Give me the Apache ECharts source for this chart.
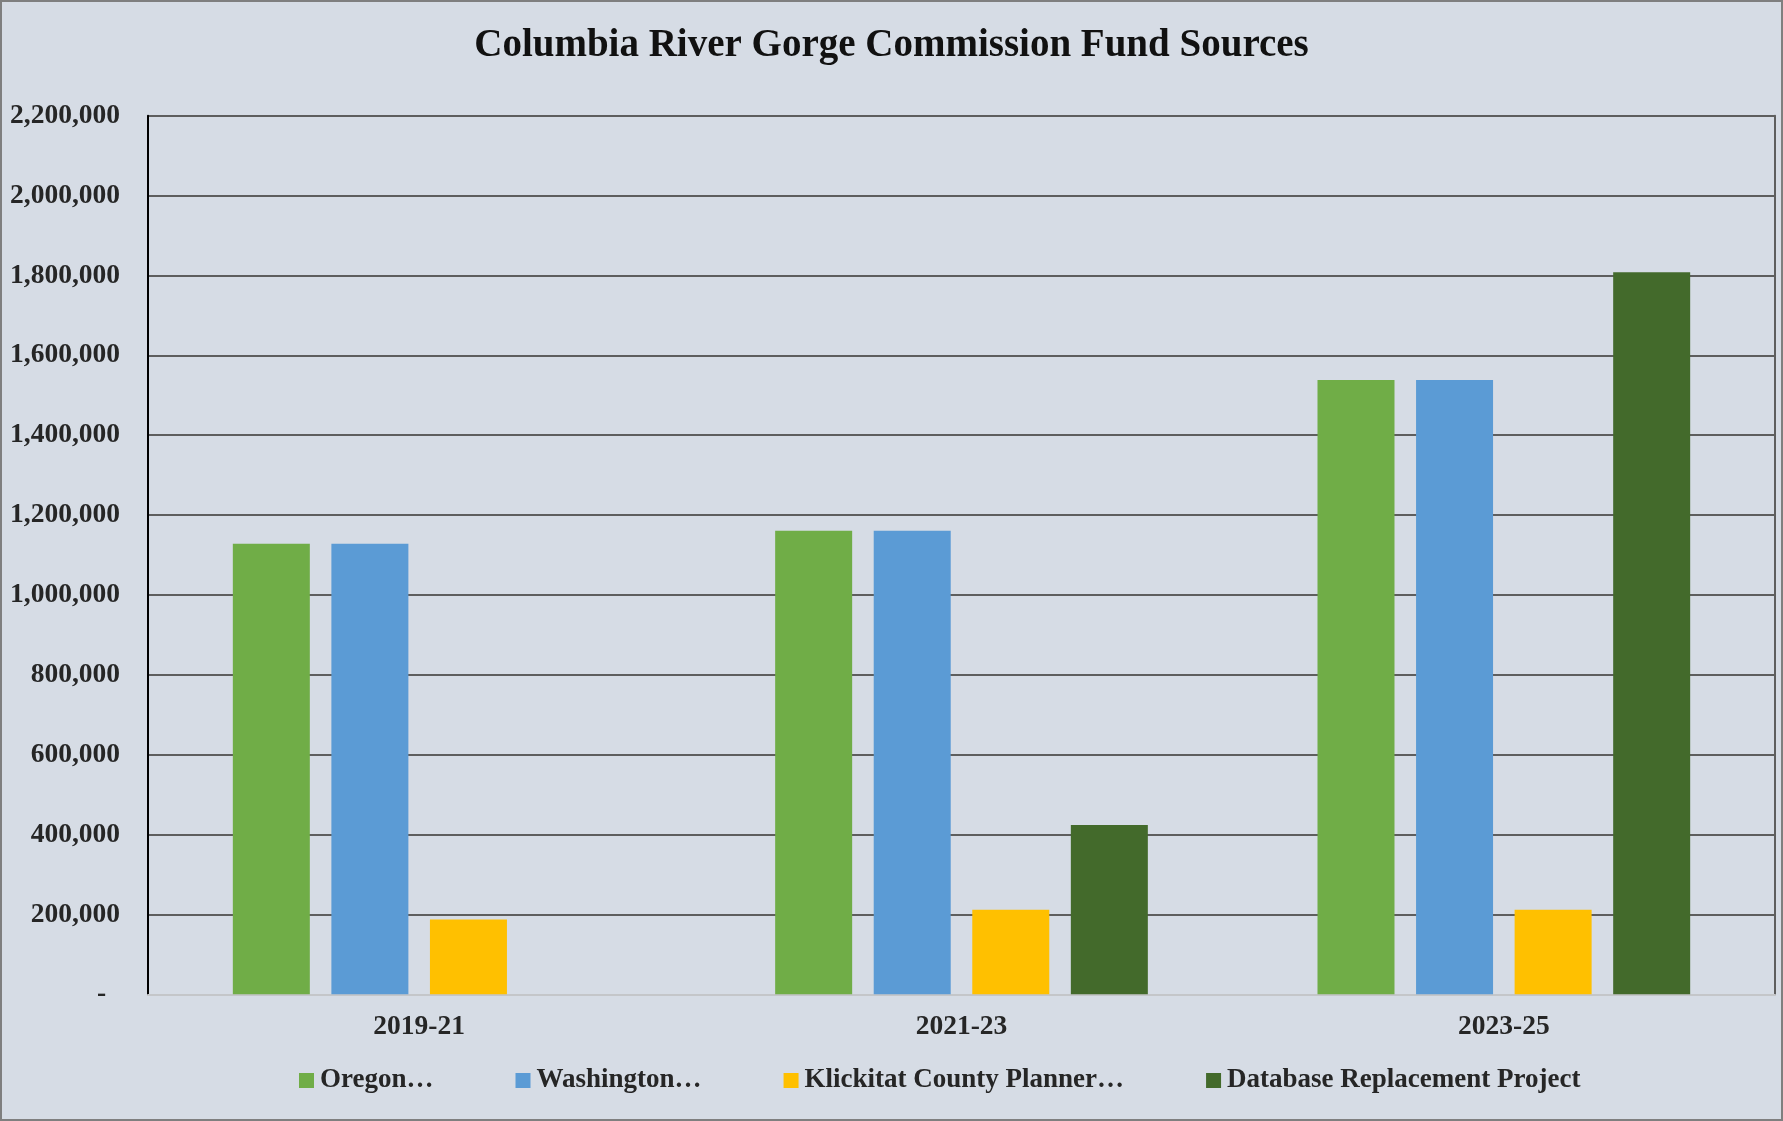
<!DOCTYPE html>
<html>
<head>
<meta charset="utf-8">
<script src="https://cdn.jsdelivr.net/npm/echarts@6/dist/echarts.min.js"></script>
<style>
html,body{margin:0;padding:0;background:#D6DCE5;}
#chart{width:1783px;height:1121px;}
</style>
</head>
<body>
<div id="chart"></div>
<script>
const categories = ['2019-21', '2021-23', '2023-25'];
const seriesNames = ['Oregon…', 'Washington…', 'Klickitat County Planner…', 'Database Replacement Project'];
const oregon = [1128000, 1161000, 1538000];
const washington = [1128000, 1161000, 1538000];
const klickitat = [187000, 212000, 212000];
const database = [null, 424000, 1808000];
const yTicks = { min: 0, max: 2200000, interval: 200000 };
const colors = ['#70AD47', '#5B9BD5', '#FFC000', '#436A2B'];

const font = '"Liberation Serif", "DejaVu Serif", serif';
const chart = echarts.init(document.getElementById('chart'));
const seriesData = [oregon, washington, klickitat, database];

chart.setOption({
  backgroundColor: '#D6DCE5',
  animation: false,
  title: {
    text: 'Columbia River Gorge Commission Fund Sources',
    left: 'center',
    top: 26,
    padding: 0,
    textStyle: { fontFamily: font, fontWeight: 'bold', fontSize: 39, color: '#111' }
  },
  legend: {
    left: 294,
    top: 1062,
    itemWidth: 15,
    itemHeight: 15,
    itemGap: 82,
    icon: 'rect',
    textStyle: { fontFamily: font, fontWeight: 'bold', fontSize: 27, color: '#262626', padding: [0,0,0,1] },
    data: seriesNames
  },
  grid: { left: 148, right: 8, top: 115.7, bottom: 126.7, containLabel: false },
  xAxis: {
    type: 'category',
    data: categories,
    axisTick: { show: false },
    axisLine: { show: true, lineStyle: { color: '#C4C6C9', width: 2 } },
    axisLabel: { margin: 19, fontFamily: font, fontWeight: 'bold', fontSize: 27.5, color: '#262626' }
  },
  yAxis: [{
    type: 'value',
    min: yTicks.min, max: yTicks.max, interval: yTicks.interval,
    axisLine: { show: true, lineStyle: { color: '#000', width: 2 } },
    axisTick: { show: false },
    splitLine: { show: true, lineStyle: { color: '#5E5E5E', width: 2 } },
    axisLabel: {
      margin: 28, fontFamily: font, fontWeight: 'bold', fontSize: 27.5, color: '#262626',
      formatter: v => v === 0 ? '-\u00a0\u00a0' : v.toLocaleString('en-US')
    }
  }, {
    type: 'value', position: 'right',
    min: yTicks.min, max: yTicks.max, interval: yTicks.interval,
    axisLine: { show: true, lineStyle: { color: '#5E5E5E', width: 2 } },
    axisTick: { show: false }, splitLine: { show: false }, axisLabel: { show: false }
  }],
  series: seriesNames.map((name, i) => ({
    name: name,
    type: 'bar',
    yAxisIndex: 0,
    data: seriesData[i],
    barWidth: 77,
    barGap: '28%',
    itemStyle: { color: colors[i] }
  })),
  graphic: [{
    type: 'rect', silent: true, z: 100,
    shape: { x: 1, y: 1, width: 1781, height: 1119 },
    style: { fill: 'none', stroke: '#7F7F7F', lineWidth: 2 }
  }]
});
</script>
</body>
</html>
